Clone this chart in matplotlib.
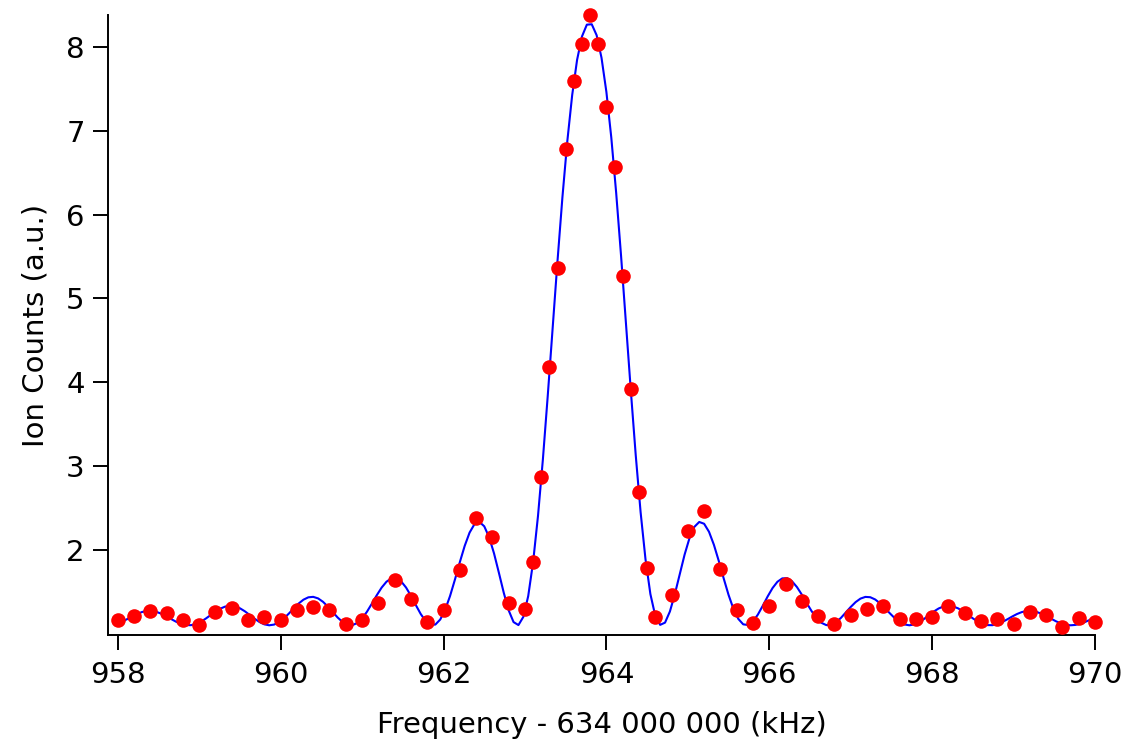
import numpy as np
import matplotlib
matplotlib.use("Agg")
import matplotlib.pyplot as plt

# Measured ion counts versus laser detuning (offset 634 000 000 kHz)
freq_khz = [
    958.0, 958.2, 958.4, 958.6, 958.8, 959.0, 959.2, 959.4, 959.6, 959.8,
    960.0, 960.2, 960.4, 960.6, 960.8, 961.0, 961.2, 961.4, 961.6, 961.8,
    962.0, 962.2, 962.4, 962.6, 962.8,
    963.0, 963.1, 963.2, 963.3, 963.4, 963.5, 963.6, 963.7, 963.8, 963.9,
    964.0, 964.1, 964.2, 964.3, 964.4, 964.5, 964.6,
    964.8, 965.0, 965.2, 965.4, 965.6, 965.8, 966.0, 966.2, 966.4, 966.6,
    966.8, 967.0, 967.2, 967.4, 967.6, 967.8, 968.0, 968.2, 968.4, 968.6,
    968.8, 969.0, 969.2, 969.4, 969.6, 969.8, 970.0,
]
ion_counts = [
    1.165, 1.21, 1.27, 1.25, 1.165, 1.105, 1.26, 1.31, 1.165, 1.20,
    1.165, 1.28, 1.32, 1.28, 1.12, 1.165, 1.37, 1.64, 1.42, 1.14,
    1.28, 1.76, 2.38, 2.155, 1.37,
    1.30, 1.86, 2.87, 4.18, 5.36, 6.78, 7.59, 8.03, 8.38, 8.03,
    7.28, 6.57, 5.27, 3.92, 2.69, 1.79, 1.20,
    1.46, 2.23, 2.47, 1.77, 1.28, 1.13, 1.33, 1.59, 1.39, 1.21,
    1.12, 1.22, 1.30, 1.33, 1.18, 1.18, 1.20, 1.33, 1.25, 1.15,
    1.18, 1.12, 1.26, 1.22, 1.08, 1.19, 1.14,
]

x = np.asarray(freq_khz)
y = np.asarray(ion_counts)


def line_shape(f, p):
    """Rabi-type line shape with an adjustable envelope on a background."""
    base, amp, f0, omega, theta, expo = p
    d2 = 1.0 + ((f - f0) / omega) ** 2
    return base + amp * d2 ** (-expo) * np.sin(0.5 * theta * np.sqrt(d2)) ** 2


# Levenberg-Marquardt least-squares fit of the line shape to the data
p = np.array([1.147, 7.1, 963.82, 0.484, 3.04, 0.83])
lam = 1e-3
for _ in range(400):
    r = y - line_shape(x, p)
    J = np.empty((x.size, p.size))
    for k in range(p.size):
        dp = np.zeros_like(p)
        dp[k] = 1e-6 * max(abs(p[k]), 1.0)
        J[:, k] = (line_shape(x, p + dp) - line_shape(x, p - dp)) / (2 * dp[k])
    A = J.T @ J
    g = J.T @ r
    step = np.linalg.solve(A + lam * np.diag(np.diag(A)), g)
    p_new = p + step
    if np.sum((y - line_shape(x, p_new)) ** 2) < np.sum(r ** 2):
        p = p_new
        lam *= 0.3
    else:
        lam *= 10.0

f_fit = np.linspace(958.0, 970.0, 201)
y_fit = line_shape(f_fit, p)

fig = plt.figure(figsize=(11.26, 7.5), dpi=100)
ax = fig.add_axes([0.0959, 0.1533, 0.8766, 0.8267])

ax.plot(f_fit, y_fit, color="#0000ff", lw=1.5, zorder=2)
ax.plot(x, y, "o", color="#ff0000", ms=10.5, mec="none", zorder=3,
        clip_on=False)

ax.set_xlim(957.88, 970.0)
ax.set_ylim(0.986, 8.38)
ax.set_xticks([958, 960, 962, 964, 966, 968, 970])
ax.set_yticks([2, 3, 4, 5, 6, 7, 8])

for side in ("top", "right"):
    ax.spines[side].set_visible(False)
for side in ("left", "bottom"):
    ax.spines[side].set_linewidth(1.4)

ax.tick_params(axis="both", direction="out", length=10.8, width=1.4,
               labelsize=21, pad=6)
ax.tick_params(axis="x", pad=8)
ax.set_xlabel("Frequency - 634 000 000 (kHz)", fontsize=21, labelpad=16)
ax.set_ylabel("Ion Counts (a.u.)", fontsize=21, labelpad=12)

fig.savefig("out.png", dpi=100)
